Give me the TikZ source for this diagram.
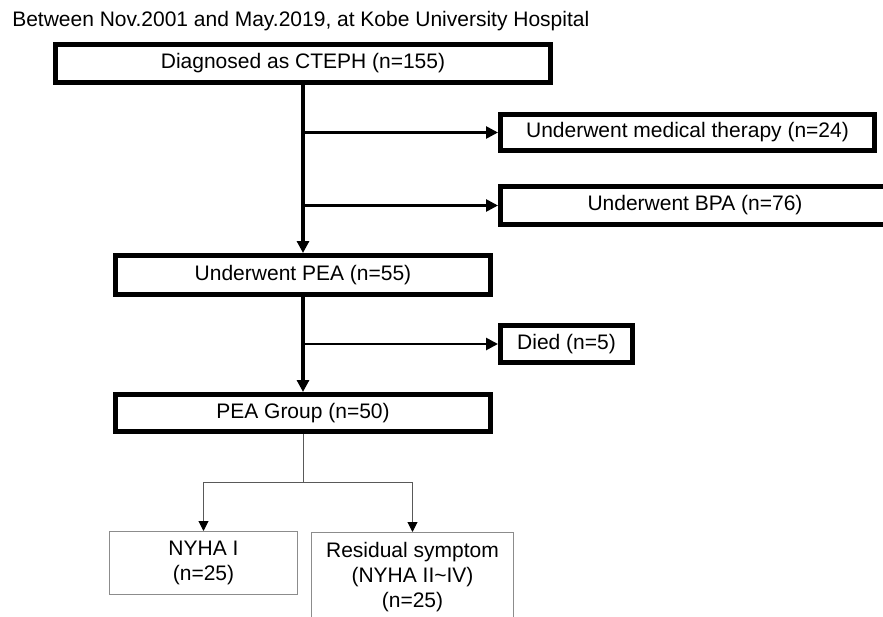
\documentclass[tikz,border=0pt]{standalone}
\usepackage{fontspec}
\setmainfont{Liberation Sans}
\usetikzlibrary{arrows.meta}

\begin{document}
\begin{tikzpicture}
[x=0.75pt,y=-0.75pt,
  every node/.style={font=\fontsize{15.75}{18.75}\selectfont},
  boxDecorate/.style={shape=rectangle,draw,line width=3.6pt,inner sep=0pt},
  outcomeDecorate/.style={shape=rectangle,draw=black!45,line width=0.75pt,inner xsep=0pt,align=center},
  trunkDecorate/.style={line width=2.4pt,-{Triangle[length=9pt,width=9pt]}},
  branchDecorate/.style={line width=2pt,-{Triangle[length=9pt,width=9pt]}},
  splitDecorate/.style={draw=black!65,line width=0.75pt},
  splitArrow/.style={splitDecorate,-{Triangle[length=7.5pt,width=7.5pt,black]}}]
\path[use as bounding box,clip] (0,0) rectangle (883,617);
%% caption
\node (title) [anchor=base west,inner sep=0pt] at (12,27)
  {Between Nov.2001 and May.2019, at Kobe University Hospital};
%% boxes
\foreach \nodename/\x/\y/\w/\h/\txt in {
  diag/303/63.5/500/43/{Diagnosed as CTEPH (n=155)},
  med/687.5/132.5/379/41/{Underwent medical therapy (n=24)},
  bpa/695/205.5/394/43/{Underwent BPA (n=76)},
  pea/303/275/380/44/{Underwent PEA (n=55)},
  died/566.5/344/137/42/{Died (n=5)},
  grp/303/413/380/42/{PEA Group (n=50)}}
{
  \node (\nodename) at (\x,\y)
    [boxDecorate,minimum width=(\w-4.8)*0.75pt,minimum height=(\h-4.8)*0.75pt] {\txt};
}
\node (nyha) at (203.5,563)
  [outcomeDecorate,inner ysep=0pt,minimum width=188*0.75pt,minimum height=63*0.75pt]
  {NYHA I\\(n=25)};
\node (resid) at (412.5,532)
  [outcomeDecorate,anchor=north,inner ysep=7.5pt,minimum width=202*0.75pt]
  {Residual symptom\\(NYHA II\textasciitilde IV)\\(n=25)};
%% edges
\draw[trunkDecorate] (diag.south) -- (pea.north);
\draw[branchDecorate] (diag.south |- med.west) -- (med.west);
\draw[branchDecorate] (diag.south |- bpa.west) -- (bpa.west);
\draw[trunkDecorate] (pea.south) -- (grp.north);
\draw[branchDecorate] (pea.south |- died.west) -- (died.west);
\draw[splitDecorate] (grp.south) -- ++(0,48) coordinate (split);
\draw[splitArrow] (split) -| (nyha.north);
\draw[splitArrow] (split) -| (resid.north);
\end{tikzpicture}
\end{document}
